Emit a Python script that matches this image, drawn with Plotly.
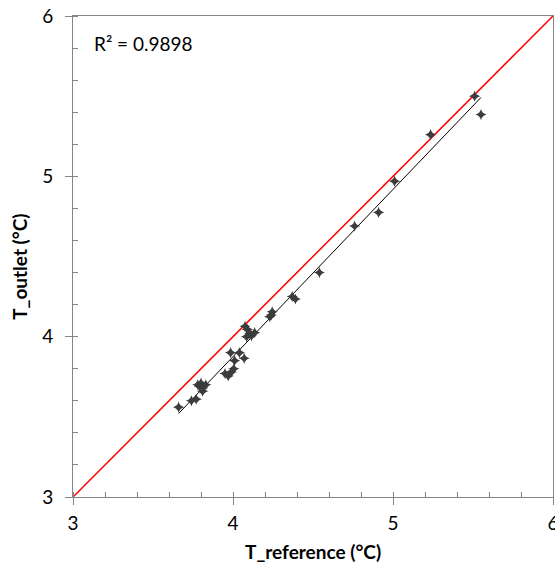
import numpy as np
import plotly.graph_objects as go

# Measured reference vs outlet temperatures (°C)
t_reference = [3.66, 3.74, 3.77, 3.78, 3.80, 3.83, 3.81, 3.81, 3.79,
               3.95, 3.97, 3.99, 4.005, 3.985, 4.04, 4.01, 4.07,
               4.075, 4.09, 4.105, 4.135, 4.085, 4.115,
               4.23, 4.245, 4.24, 4.37, 4.39, 4.54,
               4.76, 4.91, 5.01, 5.235, 5.51, 5.55]
t_outlet = [3.56, 3.60, 3.61, 3.70, 3.71, 3.70, 3.68, 3.66, 3.69,
            3.77, 3.755, 3.78, 3.80, 3.90, 3.90, 3.85, 3.865,
            4.065, 4.045, 4.02, 4.025, 4.00, 4.005,
            4.125, 4.155, 4.135, 4.25, 4.235, 4.40,
            4.69, 4.775, 4.97, 5.26, 5.50, 5.385]
r_squared_label = "R² = 0.9898"
axis_range = [3, 6]

x = np.array(t_reference)
y = np.array(t_outlet)
slope, intercept = np.polyfit(x, y, 1)
fit_x = np.array([x.min(), x.max()])
fit_y = slope * fit_x + intercept

FONT = "Lato, Open Sans, sans-serif"
AX_GREY = "#868686"

fig = go.Figure()
# 1:1 line
fig.add_trace(go.Scatter(x=axis_range, y=axis_range, mode="lines",
                         line=dict(color="#ff0000", width=1.5),
                         hoverinfo="skip", showlegend=False))
# linear trendline
fig.add_trace(go.Scatter(x=fit_x, y=fit_y, mode="lines",
                         line=dict(color="#000000", width=1),
                         hoverinfo="skip", showlegend=False))
# measurements
fig.add_trace(go.Scatter(x=x, y=y, mode="markers",
                         marker=dict(symbol="star-diamond", size=8, color="#3c3c3c",
                                     line=dict(width=0)),
                         showlegend=False))

axis_common = dict(
    range=axis_range, dtick=1, showgrid=False, zeroline=False,
    showline=True, linecolor=AX_GREY, linewidth=1, mirror=True,
    ticks="outside", ticklen=7, tickcolor=AX_GREY, tickwidth=1,
    minor=dict(dtick=0.2, ticks="inside", ticklen=5, tickcolor=AX_GREY, tickwidth=1),
    tickfont=dict(family=FONT, size=19, color="#000000"),
    ticklabeloverflow="allow", automargin=False,
)

fig.update_layout(
    width=555, height=567,
    margin=dict(l=73, r=2, t=16, b=70),
    paper_bgcolor="white", plot_bgcolor="white",
    xaxis=dict(**axis_common, ticklabelstandoff=2),
    yaxis=dict(**axis_common, ticklabelstandoff=8),
    font=dict(family=FONT),
    annotations=[
        dict(x=3.12, y=5.83, xref="x", yref="y", text=r_squared_label,
             showarrow=False, xanchor="left", yanchor="middle",
             font=dict(family=FONT, size=19, color="#000000")),
        dict(x=0.5, y=-0.113, xref="paper", yref="paper", text="<b>T_reference (°C)</b>",
             showarrow=False, xanchor="center", yanchor="middle",
             font=dict(family=FONT, size=19, color="#000000")),
        dict(x=-0.112, y=0.479, xref="paper", yref="paper", text="<b>T_outlet (°C)</b>",
             showarrow=False, xanchor="center", yanchor="middle", textangle=-90,
             font=dict(family=FONT, size=19, color="#000000")),
    ],
)

fig.write_html("out.html")
